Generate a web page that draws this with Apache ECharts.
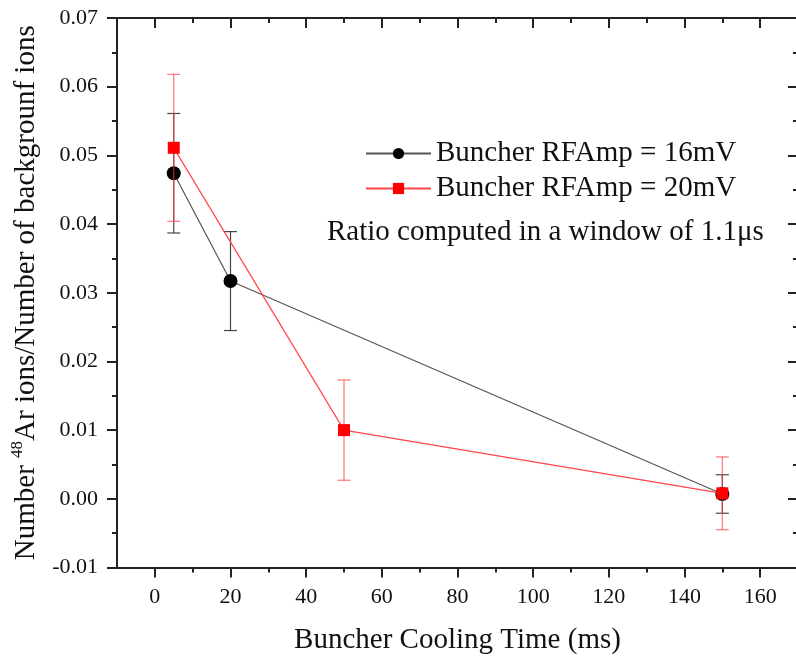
<!DOCTYPE html>
<html>
<head>
<meta charset="utf-8">
<script src="https://cdn.jsdelivr.net/npm/echarts@6/dist/echarts.min.js"></script>
<style>html,body{margin:0;padding:0;background:#fff;}#c{width:796px;height:656px;}</style>
</head>
<body>
<div id="c"></div>
<script>
const x16 = [5, 20, 150];
const y16 = [0.0474, 0.0317, 0.0007];
const e16 = [0.0087, 0.0072, 0.0028];
const x20 = [5, 50, 150];
const y20 = [0.0511, 0.0100, 0.0008];
const e20 = [0.0107, 0.0073, 0.0053];
const xMajor = [0, 20, 40, 60, 80, 100, 120, 140, 160];
const xMinor = [10, 30, 50, 70, 90, 110, 130, 150];
const name16 = 'Buncher RFAmp = 16mV';
const name20 = 'Buncher RFAmp = 20mV';
const note = 'Ratio computed in a window of 1.1μs';

const FONT = '"Liberation Serif", "Times New Roman", serif';
const AX = '#222';
const TICKFS = 22;
const BIGFS = 29;

function errRender(color, capW, opacity) {
  return function (params, api) {
    const x = api.value(0);
    const lo = api.coord([x, api.value(1)]);
    const hi = api.coord([x, api.value(2)]);
    const st = { stroke: color, lineWidth: 1.2, opacity: opacity };
    return {
      type: 'group',
      children: [
        { type: 'line', shape: { x1: lo[0], y1: lo[1], x2: hi[0], y2: hi[1] }, style: st },
        { type: 'line', shape: { x1: lo[0] - capW / 2, y1: lo[1], x2: lo[0] + capW / 2, y2: lo[1] }, style: st },
        { type: 'line', shape: { x1: hi[0] - capW / 2, y1: hi[1], x2: hi[0] + capW / 2, y2: hi[1] }, style: st }
      ]
    };
  };
}

const chart = echarts.init(document.getElementById('c'), null, { renderer: 'canvas' });
const xBase = { type: 'value', min: -10, max: 170, splitLine: { show: false }, gridIndex: 0 };
const option = {
  animation: false,
  backgroundColor: '#fff',
  grid: { left: 117, top: 18, width: 681, height: 549.5, containLabel: false, outerBoundsMode: 'none' },
  legend: {
    orient: 'vertical', left: 360, top: 134,
    itemWidth: 65, itemHeight: 14, itemGap: 6,
    data: [name16, name20],
    textStyle: { fontFamily: FONT, fontSize: BIGFS, color: '#111', lineHeight: 29 },
  },
  graphic: [{
    type: 'text', left: 327, top: 218,
    style: { text: note, font: BIGFS + 'px ' + FONT, fill: '#111' }
  }],
  xAxis: [
    Object.assign({}, xBase, {
      position: 'bottom',
      axisLine: { onZero: false, lineStyle: { color: AX, width: 2 } },
      axisTick: { customValues: xMajor, length: 10, lineStyle: { color: AX, width: 2 } },
      axisLabel: { customValues: xMajor, margin: 19, fontSize: TICKFS, fontFamily: FONT, color: '#111' },
      name: 'Buncher Cooling Time (ms)', nameLocation: 'middle', nameGap: 58,
      nameTextStyle: { fontSize: BIGFS, fontFamily: FONT, color: '#111' }
    }),
    Object.assign({}, xBase, {
      position: 'bottom',
      axisLine: { show: false, onZero: false },
      axisTick: { customValues: xMinor, length: 5, lineStyle: { color: AX, width: 2 } },
      axisLabel: { show: false }
    }),
    Object.assign({}, xBase, {
      position: 'top',
      axisLine: { onZero: false, lineStyle: { color: AX, width: 2 } },
      axisTick: { customValues: xMajor, inside: true, length: 10, lineStyle: { color: AX, width: 2 } },
      axisLabel: { show: false }
    }),
    Object.assign({}, xBase, {
      position: 'top',
      axisLine: { show: false, onZero: false },
      axisTick: { customValues: xMinor, inside: true, length: 5, lineStyle: { color: AX, width: 2 } },
      axisLabel: { show: false }
    })
  ],
  yAxis: [
    {
      type: 'value', min: -0.01, max: 0.07, interval: 0.01, position: 'left',
      splitLine: { show: false },
      axisLine: { show: true, onZero: false, lineStyle: { color: AX, width: 2 } },
      axisTick: { show: true, length: 10, lineStyle: { color: AX, width: 2 } },
      minorTick: { show: true, splitNumber: 2, length: 5, lineStyle: { color: AX, width: 2 } },
      axisLabel: { margin: 19, fontSize: TICKFS, fontFamily: FONT, color: '#111', formatter: v => v.toFixed(2) },
      name: '{a|Number }{s|48}{a|Ar ions/Number of backgrounf ions}',
      nameLocation: 'middle', nameGap: 72,
      nameTextStyle: {
        fontSize: BIGFS, fontFamily: FONT, color: '#111',
        rich: {
          a: { fontSize: BIGFS, fontFamily: FONT, color: '#111', lineHeight: 32, verticalAlign: 'bottom' },
          s: { fontSize: 17, fontFamily: FONT, color: '#111', lineHeight: 32, verticalAlign: 'top' }
        }
      }
    },
    {
      type: 'value', min: -0.01, max: 0.07, interval: 0.01, position: 'right',
      splitLine: { show: false },
      axisLine: { show: true, onZero: false, lineStyle: { color: AX, width: 2 } },
      axisTick: { show: true, inside: true, length: 10, lineStyle: { color: AX, width: 2 } },
      minorTick: { show: true, splitNumber: 2, length: 5, lineStyle: { color: AX, width: 2 } },
      axisLabel: { show: false }
    }
  ],
  series: [
    {
      type: 'custom', name: 'err16', xAxisIndex: 0, yAxisIndex: 0, z: 2,
      renderItem: errRender('#333', 13, 0.9),
      data: x16.map((x, i) => [x, y16[i] - e16[i], y16[i] + e16[i]])
    },
    {
      type: 'line', name: name16, xAxisIndex: 0, yAxisIndex: 0, z: 3,
      data: x16.map((x, i) => [x, y16[i]]),
      symbol: 'circle', symbolSize: 14,
      itemStyle: { color: '#000' },
      lineStyle: { color: '#555', width: 1.2 }
    },
    {
      type: 'custom', name: 'err20', xAxisIndex: 0, yAxisIndex: 0, z: 4,
      renderItem: errRender('#ff3b3b', 13, 0.7),
      data: x20.map((x, i) => [x, y20[i] - e20[i], y20[i] + e20[i]])
    },
    {
      type: 'line', name: name20, xAxisIndex: 0, yAxisIndex: 0, z: 5,
      data: x20.map((x, i) => [x, y20[i]]),
      symbol: 'rect', symbolSize: 12,
      itemStyle: { color: '#ff0000' },
      lineStyle: { color: '#ff4545', width: 1.2 }
    }
  ]
};
chart.setOption(option);
</script>
</body>
</html>
